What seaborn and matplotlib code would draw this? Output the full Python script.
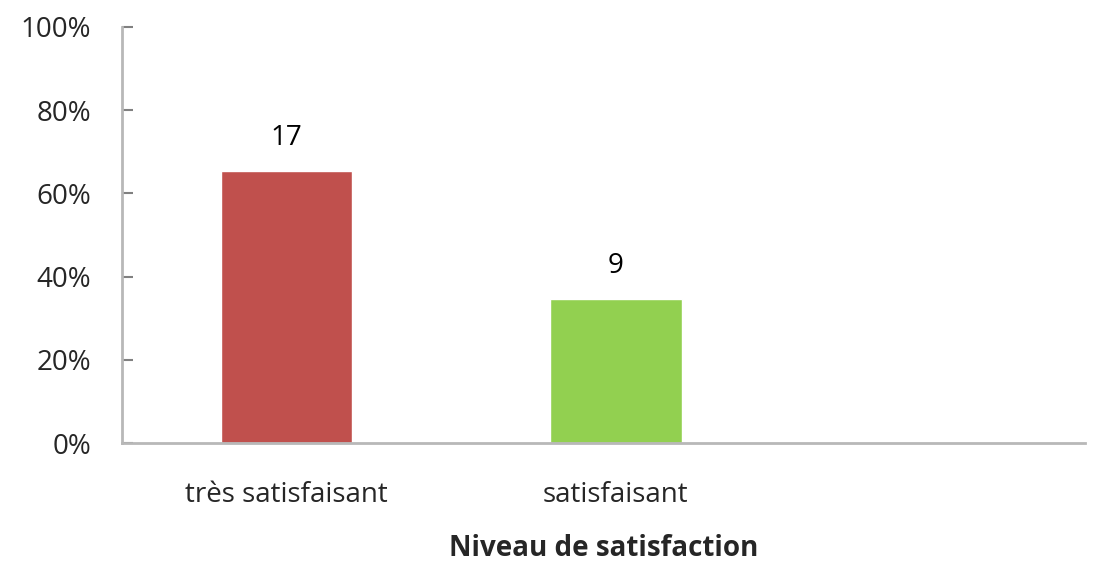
import matplotlib.pyplot as plt
import matplotlib.ticker as mticker
import pandas as pd
import seaborn as sns

categories = ["très satisfaisant", "satisfaisant"]
counts = [17, 9]
colors = ["#C0504D", "#92D050"]

total = sum(counts)
df = pd.DataFrame({"niveau": categories,
                   "part": [c / total for c in counts],
                   "n": counts})

sns.set_theme(style="white")
plt.rcParams["font.family"] = ["Open Sans", "DejaVu Sans"]

fig = plt.figure(figsize=(11.01, 5.62), dpi=100)
ax = fig.add_axes([0.1108, 0.2117, 0.8747, 0.7403])

sns.barplot(data=df, x="niveau", y="part", hue="niveau", palette=colors,
            width=0.40, saturation=1, legend=False, ax=ax)

for cont, n in zip(ax.containers, counts):
    ax.bar_label(cont, labels=[str(n)], padding=14, fontsize=20, color="black")

ax.set_xlim(-0.5, 2.426)
ax.set_ylim(0, 1)
ax.yaxis.set_major_locator(mticker.MultipleLocator(0.2))
ax.yaxis.set_major_formatter(mticker.PercentFormatter(1.0, decimals=0))

ax.tick_params(axis="y", direction="in", length=8, width=1.5, color="#808080",
               labelsize=20, pad=22, left=True)
ax.tick_params(axis="x", length=0, labelsize=20, pad=27)

for side in ["top", "right"]:
    ax.spines[side].set_visible(False)
for side in ["left", "bottom"]:
    ax.spines[side].set_color("#B8B8B8")
    ax.spines[side].set_linewidth(2)

ax.set_ylabel("")
ax.set_xlabel("Niveau de satisfaction", fontsize=20, fontweight="bold", labelpad=18)

fig.savefig("out.png", dpi=100)
